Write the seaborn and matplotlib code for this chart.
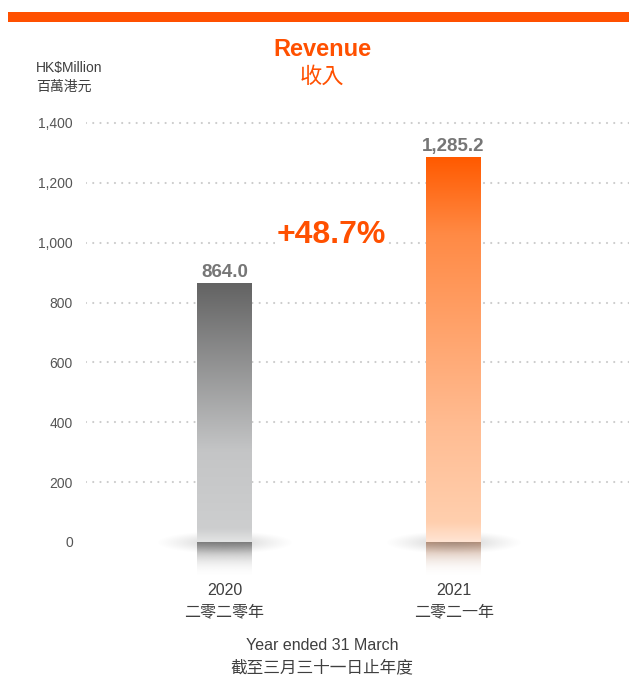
import numpy as np
import pandas as pd
import matplotlib
matplotlib.use('Agg')
import matplotlib.pyplot as plt
import seaborn as sns
from matplotlib.colors import LinearSegmentedColormap, to_rgb
from matplotlib.patches import Rectangle

# --- data ---
years = ['2020', '2021']
years_zh = ['二零二零年', '二零二一年']
revenue = [864.0, 1285.2]
value_labels = ['864.0', '1,285.2']
growth_label = '+48.7%'
y_ticks = [0, 200, 400, 600, 800, 1000, 1200, 1400]

ORANGE = '#ff5000'
DARK = '#3f3f3f'

# gradient stops for the bars (bottom -> top)
bar_stops = [
    [(0.0, '#e3e4e4'), (0.05, '#cdcecf'), (0.35, '#c4c5c6'), (1.0, '#636363')],
    [(0.0, '#ffe4d3'), (0.05, '#ffcfae'), (0.30, '#ffbc92'), (0.80, '#ff8a45'), (1.0, '#ff5a00')],
]
reflect_colors = ['#727272', '#bb8c70']

sns.set_theme(style='white')
plt.rcParams['font.family'] = ['Liberation Sans', 'Noto Sans CJK TC', 'DejaVu Sans']
plt.rcParams['lines.scale_dashes'] = False

W, H = 629, 676
fig = plt.figure(figsize=(W / 100, H / 100), dpi=100)
ax = fig.add_axes([86 / W, (H - 583) / H, 1 - 86 / W, (583 - 108) / H])

df = pd.DataFrame({'year': years, 'revenue': revenue})
sns.barplot(data=df, x='year', y='revenue', width=0.24, color='#999999', ax=ax, zorder=3)

XLIM = (-0.605, 1.766)
YLIM = (-137, 1450)

# dotted grid
for t in y_ticks[1:]:
    ax.plot(XLIM, [t, t], color='#cccccc', linewidth=1.6, linestyle=(0, (0.01, 5.2)),
            dash_capstyle='round', zorder=0)

for i, p in enumerate(ax.patches):
    x0, w, h = p.get_x(), p.get_width(), p.get_height()
    p.set_facecolor('none')
    p.set_edgecolor('none')
    cmap = LinearSegmentedColormap.from_list(f'g{i}', bar_stops[i])
    grad = np.linspace(1, 0, 256).reshape(-1, 1)
    im = ax.imshow(grad, cmap=cmap, vmin=0, vmax=1, aspect='auto',
                   extent=[x0, x0 + w, 0, h], zorder=3, interpolation='bicubic')
    im.set_clip_path(p)

    # reflection under the bar
    t = np.linspace(0, 1, 128).reshape(-1, 1)
    rgba = np.zeros((128, 1, 4))
    rgba[..., :3] = to_rgb(reflect_colors[i])
    rgba[..., 3] = (1 - t) ** 2.4
    ax.imshow(rgba, aspect='auto', extent=[x0, x0 + w, -125, 0], zorder=1.5,
              interpolation='bicubic')

    # soft shadow ellipse at the base
    cx = x0 + w / 2
    gx, gy = np.meshgrid(np.linspace(-1, 1, 200), np.linspace(-1, 1, 60))
    r = np.sqrt(gx ** 2 + gy ** 2)
    sh = np.zeros((60, 200, 4))
    sh[..., :3] = 0.5
    sh[..., 3] = np.clip(1 - r, 0, 1) ** 1.2 * 0.4
    ax.imshow(sh, aspect='auto', extent=[cx - 0.3, cx + 0.3, -40, 36], zorder=1.8,
              interpolation='bicubic')

    ax.text(cx, h + 8, value_labels[i], ha='center', va='bottom', fontsize=13.5,
            fontweight='bold', color='#767676', zorder=5)

ax.text(0.465, 1026, growth_label, ha='center', va='center', fontsize=23,
        fontweight='bold', color=ORANGE, zorder=5,
        bbox=dict(facecolor='white', edgecolor='none', pad=1))

ax.set_xlim(*XLIM)
ax.set_ylim(*YLIM)
ax.set_yticks(y_ticks)
ax.set_yticklabels([f'{v:,}' for v in y_ticks], fontsize=10, color='#555555')
ax.set_xticks(range(len(years)))
ax.set_xticklabels([f'{a}\n{b}' for a, b in zip(years, years_zh)], fontsize=11.5,
                   color=DARK, linespacing=1.5)
ax.tick_params(axis='y', length=0, pad=9.5)
ax.tick_params(axis='x', length=0, pad=0)
ax.set_xlabel('')
ax.set_ylabel('')
sns.despine(ax=ax, left=True, bottom=True)
ax.patch.set_alpha(0)

# header / footer
fig.patches.append(Rectangle((8 / W, 1 - 22 / H), 1 - 8 / W, 10 / H, transform=fig.transFigure,
                             facecolor=ORANGE, edgecolor='none'))
fig.text(322 / W, 1 - 50 / H, 'Revenue', ha='center', va='center', fontsize=17,
         fontweight='bold', color=ORANGE)
fig.text(322 / W, 1 - 77 / H, '收入', ha='center', va='center', fontsize=16, color=ORANGE)
fig.text(36 / W, 1 - 68 / H, 'HK$Million', ha='left', va='center', fontsize=10, color=DARK)
fig.text(36 / W, 1 - 87 / H, '百萬港元', ha='left', va='center', fontsize=10, color=DARK)
fig.text(322 / W, 1 - 645 / H, 'Year ended 31 March', ha='center', va='center',
         fontsize=11.5, color=DARK)
fig.text(322 / W, 1 - 667 / H, '截至三月三十一日止年度', ha='center', va='center',
         fontsize=12, color=DARK)

fig.savefig('out.png', dpi=100)
